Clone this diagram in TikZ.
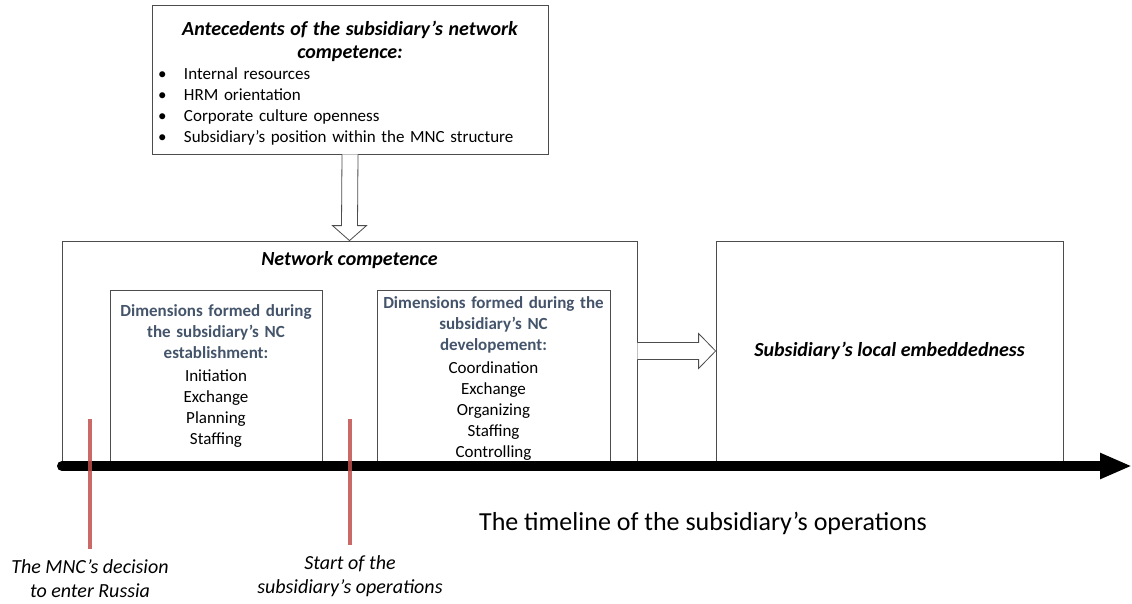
\documentclass[tikz,border=0pt]{standalone}
\usepackage{fontspec}
\setmainfont{Carlito}
\usepackage{tikz}
\usetikzlibrary{arrows.meta}
\usetikzlibrary{calc}
\usetikzlibrary{positioning}
\definecolor{dimblue}{HTML}{44546A}
\definecolor{markred}{HTML}{C0504D}
\tikzset{
    box/.style = {draw=black!70,line width=0.8pt,inner sep=0,align=center},
    hollow/.style = {draw=black!70,line width=0.8pt,fill=white},
    timeline/.style = {line width=10pt,line cap=round,-{Triangle[length=32pt,width=24pt]}},
    marker/.style = {draw=markred,line width=3.2pt,draw opacity=0.85},
    tlabel/.style = {font=\fontsize{20}{24}\selectfont\itshape,align=center,inner sep=0pt}
}
\newcommand*{\dimtitle}[1]{{\color{dimblue}\bfseries #1\par}\vspace{2pt}}
\newcommand*{\bul}{\makebox[26pt][l]{\textbullet}}

\begin{document}
\begin{tikzpicture}[x=1pt,y=-1pt]
        \useasboundingbox (0,0) rectangle (1132,603);
        \newcommand\bsz{\fontsize{17}{21}\selectfont}
        \newcommand\hsz{\fontsize{20}{23}\selectfont\bfseries\itshape}
        % Antecedents
        \node[box,minimum width=396pt,minimum height=149pt] (antec) at (350,79.5) {};
        \node[inner sep=0,text width=384pt,align=left,font=\bsz] (antectxt) at ($(antec.center)+(0,4)$) {%
            {\hsz\centering Antecedents of the subsidiary’s network\\ competence:\par}
            \bul Internal resources\\
            \bul HRM orientation\\
            \bul Corporate culture openness\\
            \bul Subsidiary’s position within the MNC structure\par};
        % Network competence
        \node[box,minimum width=575pt,minimum height=220pt,
            label={[font=\hsz,anchor=north,yshift=-7pt]north:Network competence}
        ] (nc) at (349.5,351) {};
        \node[box,minimum width=212pt,minimum height=171pt,text width=206pt,font=\bsz] (dim1) at (216,375.5) {%
            \dimtitle{Dimensions formed during\\ the subsidiary’s NC\\ establishment:}
            Initiation\\ Exchange\\ Planning\\ Staffing\par};
        \node[box,minimum width=233pt,minimum height=171pt] (dim2) at (493.5,375.5) {};
        \node[inner sep=0,text width=229pt,align=center,font=\bsz] (dim2txt) at ($(dim2.center)+(0,2.5)$) {%
            \dimtitle{Dimensions formed during the\\ subsidiary’s NC\\ developement:}
            Coordination\\ Exchange\\ Organizing\\ Staffing\\ Controlling\par};
        % Embeddedness
        \node[box,minimum width=347pt,minimum height=220pt,font=\hsz] (emb) at (889.5,351) {Subsidiary’s local embeddedness};
        % Hollow arrows
        \draw[hollow] ($(antec.south)+(-8,0)$) -- ($(nc.north)+(-8,-15)$) -- ($(nc.north)+(-17,-15)$)
            -- (nc.north) -- ($(nc.north)+(17,-15)$) -- ($(nc.north)+(8,-15)$)
            -- ($(antec.south)+(8,0)$);
        \draw[hollow] ($(nc.east)+(0,-8.5)$) -- ($(emb.west)+(-17,-8.5)$) -- ($(emb.west)+(-17,-17.5)$)
            -- (emb.west) -- ($(emb.west)+(-17,17.5)$) -- ($(emb.west)+(-17,8.5)$)
            -- ($(nc.east)+(0,8.5)$);
        % Timeline
        \path (62,466) coordinate (tlstart)
            to (1132,466) coordinate (tlend);
        \draw[timeline] (tlstart) -- (tlend);
        \node[font=\fontsize{26}{30}\selectfont] (tlcap) at (703,523) {The timeline of the subsidiary’s operations};
        % Milestones
        \path (90,419) coordinate (mk1)
            to (350,419) coordinate (mk2);
        \node[tlabel,anchor=north] (decision) at (90,559) {The MNC’s decision\\ to enter Russia};
        \node[tlabel,anchor=north] (start) at (350,555.5) {Start of the\\ subsidiary’s operations};
        \draw[marker,shorten >=10pt] (mk1) to (decision.north);
        \draw[marker,shorten >=10.5pt] (mk2) to (start.north);
    \end{tikzpicture}
\end{document}
